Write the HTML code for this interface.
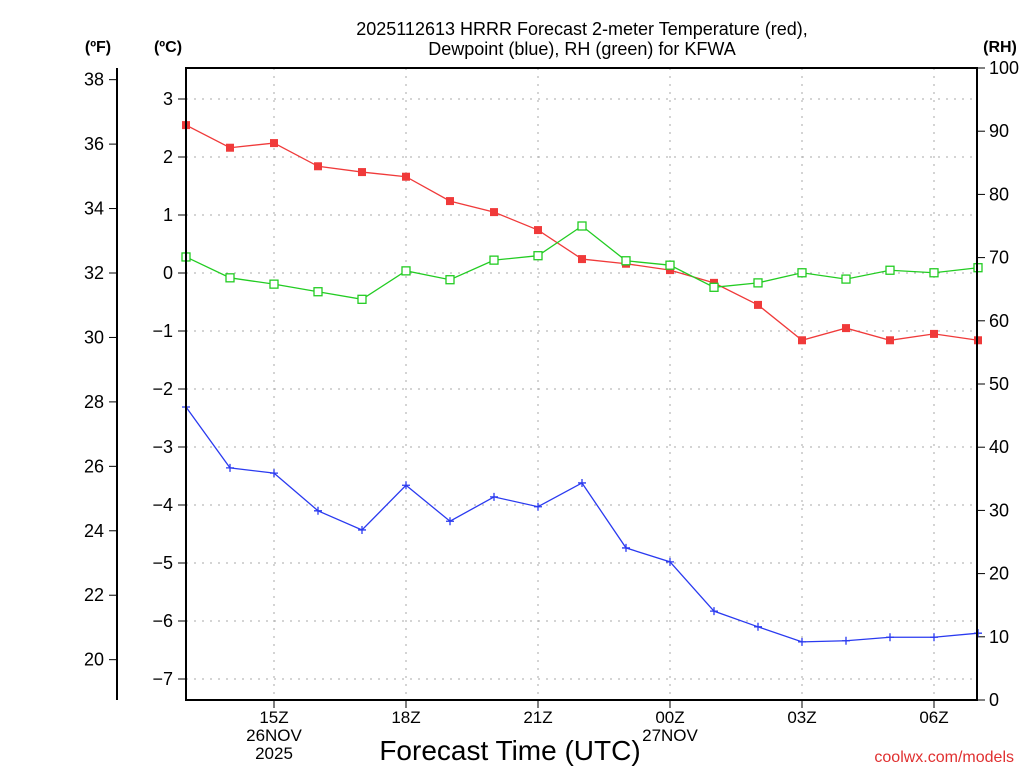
<!DOCTYPE html>
<html><head><meta charset="utf-8"><style>
body{margin:0;background:#fff}
svg text{font-family:"Liberation Sans","DejaVu Sans",sans-serif}
</style></head><body>
<svg id="chart" width="1024" height="768" xmlns="http://www.w3.org/2000/svg">
<text x="582" y="35" text-anchor="middle" font-size="18" fill="#000">2025112613 HRRR Forecast 2-meter Temperature (red),</text>
<text x="582" y="55" text-anchor="middle" font-size="18" fill="#000">Dewpoint (blue), RH (green) for KFWA</text>
<text x="98" y="52" text-anchor="middle" font-size="16" font-weight="bold">(ºF)</text>
<text x="168" y="52" text-anchor="middle" font-size="16" font-weight="bold">(ºC)</text>
<text x="1000" y="52" text-anchor="middle" font-size="16" font-weight="bold">(RH)</text>
<text x="510" y="760" text-anchor="middle" font-size="28">Forecast Time (UTC)</text>
<text x="1014" y="762" text-anchor="end" font-size="16" fill="#e03030">coolwx.com/models</text>
<g id="grid"></g><g id="axes"></g><g id="series"></g>
<rect x="186" y="68" width="791" height="632" fill="none" stroke="#000" stroke-width="2"/>
</svg>
<script>
const hours=[13,14,15,16,17,18,19,20,21,22,23,24,25,26,27,28,29,30,31];
const tempC=[2.55,2.16,2.24,1.84,1.74,1.66,1.24,1.05,0.74,0.24,0.16,0.05,-0.17,-0.55,-1.16,-0.95,-1.16,-1.05,-1.16];
const dewC=[-2.31,-3.36,-3.45,-4.10,-4.43,-3.66,-4.28,-3.86,-4.03,-3.62,-4.74,-4.98,-5.83,-6.10,-6.36,-6.34,-6.28,-6.28,-6.21];
const rh=[70.1,66.8,65.8,64.6,63.4,67.9,66.5,69.6,70.3,75.0,69.5,68.8,65.3,66.0,67.6,66.6,68.0,67.6,68.4];
const cTicks=[3,2,1,0,-1,-2,-3,-4,-5,-6,-7];
const fTicks=[38,36,34,32,30,28,26,24,22,20];
const rhTicks=[100,90,80,70,60,50,40,30,20,10,0];
const xTicks=[{h:15,l:["15Z","26NOV","2025"]},{h:18,l:["18Z"]},{h:21,l:["21Z"]},{h:24,l:["00Z","27NOV"]},{h:27,l:["03Z"]},{h:30,l:["06Z"]}];
const X=h=>186+(h-13)*44;
const YC=c=>273-c*58;
const YF=f=>YC((f-32)/1.8);
const YR=r=>700-r*6.32;
const NS="http://www.w3.org/2000/svg";
function mk(p,t,a){const e=document.createElementNS(NS,t);for(const k in a)e.setAttribute(k,a[k]);p.appendChild(e);return e;}
const grid=document.getElementById('grid'),axes=document.getElementById('axes'),ser=document.getElementById('series');
cTicks.forEach(c=>{const y=YC(c);
 const g=mk(grid,'line',{x1:186,x2:977,y1:y,y2:y,stroke:'#aaa','stroke-dasharray':'2,6'});
 
 mk(axes,'line',{x1:178,x2:186,y1:y,y2:y,stroke:'#000'});
 const t=mk(axes,'text',{x:173,y:y+6,'text-anchor':'end','font-size':18});t.textContent=String(c).replace('-','−');
 });
mk(axes,'line',{x1:117,x2:117,y1:68,y2:700,stroke:'#000','stroke-width':2});
fTicks.forEach(f=>{const y=YF(f);mk(axes,'line',{x1:109,x2:117,y1:y,y2:y,stroke:'#000'});
 const t=mk(axes,'text',{x:104,y:y+6,'text-anchor':'end','font-size':18});t.textContent=f;
 });
rhTicks.forEach(r=>{const y=YR(r);mk(axes,'line',{x1:977,x2:985,y1:y,y2:y,stroke:'#000'});
 const t=mk(axes,'text',{x:989,y:y+6,'font-size':18});t.textContent=r;
 });
xTicks.forEach(o=>{const x=X(o.h);
 const g=mk(grid,'line',{x1:x,x2:x,y1:68,y2:700,stroke:'#aaa','stroke-dasharray':'2,6'});
 
 mk(axes,'line',{x1:x,x2:x,y1:700,y2:708,stroke:'#000'});
 o.l.forEach((s,i)=>{const t=mk(axes,'text',{x:x,y:723+i*18,'text-anchor':'middle','font-size':17});t.textContent=s;
 });});
function line(vals,yf,col,name){
 const pts=vals.map((v,i)=>X(hours[i])+','+yf(v)).join(' ');
 const p=mk(ser,'polyline',{points:pts,fill:'none',stroke:col,'stroke-width':1.3});
 }
line(tempC,YC,'#f03a3a','temperature');line(dewC,YC,'#2a3af0','dewpoint');line(rh,YR,'#22cc22','rh');
tempC.forEach((v,i)=>{const r=mk(ser,'rect',{x:X(hours[i])-4,y:YC(v)-4,width:8,height:8,fill:'#f03a3a'});
 });
rh.forEach((v,i)=>{const r=mk(ser,'rect',{x:X(hours[i])-4,y:YR(v)-4,width:8,height:8,fill:'#fff',stroke:'#22cc22','stroke-width':1.3});
 });
dewC.forEach((v,i)=>{const x=X(hours[i]),y=YC(v);
 const p=mk(ser,'path',{d:`M${x-4},${y}H${x+4}M${x},${y-4}V${y+4}`,stroke:'#2a3af0','stroke-width':1.3});
 });
</script>
</body></html>
